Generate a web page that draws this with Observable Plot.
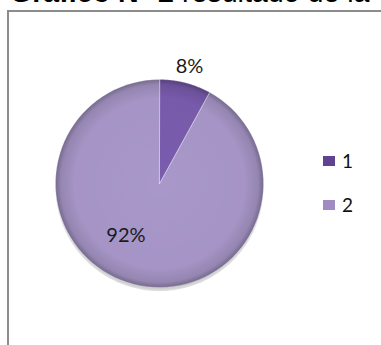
<!DOCTYPE html>
<html><head><meta charset="utf-8">
<script src="https://cdn.jsdelivr.net/npm/d3@7"></script>
<script src="https://cdn.jsdelivr.net/npm/@observablehq/plot@0.6"></script>
<style>
html,body{margin:0;padding:0;background:#fff;overflow:hidden}
#wrap{position:relative;width:381px;height:345px;overflow:hidden}
#title{position:absolute;left:10px;top:-22px;font-family:"Liberation Sans",Arial,sans-serif;font-size:28.6px;white-space:nowrap;color:#000;line-height:28px}
#box{position:absolute;left:7px;top:10px;width:420px;height:400px;border:2px solid #8c8c8c;box-sizing:border-box}
#chart{position:absolute;left:0;top:0}
.leg{position:absolute;font-family:Lato,"Open Sans",sans-serif;font-size:19px;color:#111;display:flex;align-items:center}
.sw{width:12px;height:10px;margin-right:7px}
</style></head>
<body><div id="wrap"><div id="box"></div><div id="title"><b>Gráfico N° 2</b> resultado de la</div><div id="chart"></div></div>
<script>
const categories = ["1", "2"];
const values = [8, 92];
const labels = ["8%", "92%"];
const colors = ["#7a5cae", "#a897c9"];
const legendColors = ["#5f4290", "#a08cc2"];

const W = 381, H = 345, cx = 159, cy = 183, R = 104;
const arcs = d3.pie().sort(null)(values);
const pts = [];
arcs.forEach((a, i) => {
  pts.push({cat: categories[i], x: 0, y: 0});
  const n = 90;
  for (let k = 0; k <= n; k++) {
    const t = a.startAngle + (a.endAngle - a.startAngle) * k / n;
    pts.push({cat: categories[i], x: Math.sin(t), y: Math.cos(t)});
  }
});
const rim = d3.range(0, 361, 2).map(d => ({x: Math.sin(d*Math.PI/180), y: Math.cos(d*Math.PI/180)}));
const lab = arcs.map((a, i) => {
  const m = (a.startAngle + a.endAngle) / 2;
  const r = i === 0 ? 1.16 : 0.6;
  return {label: labels[i], x: Math.sin(m) * r, y: Math.cos(m) * r};
});

const plot = Plot.plot({
  width: W, height: H, margin: 0,
  x: {domain: [-cx / R, (W - cx) / R], axis: null},
  y: {domain: [-(H - cy) / R, cy / R], axis: null},
  color: {domain: categories, range: colors},
  marks: [
    Plot.line(rim.map(d => ({x: d.x, y: d.y - 0.035})), {x: "x", y: "y", curve: "linear-closed", fill: "url(#shadow)", stroke: "none"}),
    Plot.line(pts, {x: "x", y: "y", z: "cat", fill: "cat", curve: "linear-closed", stroke: "none"}),
    Plot.line(pts, {x: "x", y: "y", z: "cat", curve: "linear-closed", fill: "url(#shade)", stroke: "#ffffff", strokeOpacity: 0.35, strokeWidth: 0.8}),
    Plot.text([lab[0]], {x: "x", y: "y", text: "label", fontSize: 20, fontFamily: "Lato, 'Open Sans', sans-serif", fill: "#1a1a1a"}),
    Plot.text([lab[1]], {x: "x", y: "y", text: "label", dx: -18, dy: -8, fontSize: 20, fontFamily: "Lato, 'Open Sans', sans-serif", fill: "#1a1a1a"})
  ]
});
const defs = d3.select(plot).insert("defs", ":first-child");
const g = defs.append("radialGradient").attr("id", "shade").attr("gradientUnits", "userSpaceOnUse")
  .attr("cx", cx).attr("cy", cy).attr("r", R);
g.append("stop").attr("offset", "0").attr("stop-color", "#000").attr("stop-opacity", 0);
g.append("stop").attr("offset", "0.82").attr("stop-color", "#000").attr("stop-opacity", 0.02);
g.append("stop").attr("offset", "0.95").attr("stop-color", "#000").attr("stop-opacity", 0.12);
g.append("stop").attr("offset", "1").attr("stop-color", "#000").attr("stop-opacity", 0.3);
const s = defs.append("radialGradient").attr("id", "shadow").attr("gradientUnits", "userSpaceOnUse")
  .attr("cx", cx).attr("cy", cy + 4).attr("r", R + 4);
s.append("stop").attr("offset", "0.9").attr("stop-color", "#555").attr("stop-opacity", 0.5);
s.append("stop").attr("offset", "1").attr("stop-color", "#888").attr("stop-opacity", 0);
document.getElementById("chart").append(plot);

const wrap = document.getElementById("wrap");
categories.forEach((c, i) => {
  const d = document.createElement("div");
  d.className = "leg";
  d.style.left = "323px";
  d.style.top = (149 + i * 44) + "px";
  d.innerHTML = `<span class="sw" style="background:${legendColors[i]}"></span><span>${c}</span>`;
  wrap.append(d);
});
</script></body></html>
